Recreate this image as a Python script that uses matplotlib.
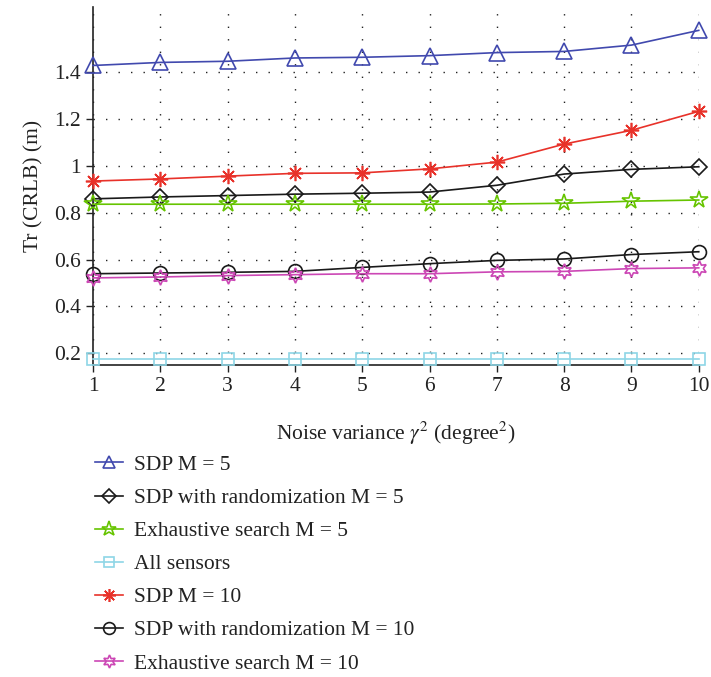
import matplotlib
matplotlib.use("Agg")
import matplotlib.pyplot as plt

noise_var = [1, 2, 3, 4, 5, 6, 7, 8, 9, 10]

sdp_m5 = [1.43, 1.443, 1.448, 1.462, 1.465, 1.472, 1.485, 1.49, 1.517, 1.58]
sdp_rand_m5 = [0.860, 0.868, 0.874, 0.880, 0.884, 0.889, 0.918, 0.966, 0.986, 0.997]
exh_m5 = [0.837, 0.837, 0.837, 0.837, 0.837, 0.837, 0.838, 0.841, 0.850, 0.855]
all_sensors = [0.177, 0.177, 0.177, 0.177, 0.177, 0.177, 0.177, 0.177, 0.177, 0.177]
sdp_m10 = [0.936, 0.945, 0.957, 0.969, 0.971, 0.988, 1.017, 1.094, 1.153, 1.234]
sdp_rand_m10 = [0.540, 0.543, 0.546, 0.550, 0.567, 0.583, 0.597, 0.603, 0.622, 0.634]
exh_m10 = [0.522, 0.526, 0.532, 0.536, 0.540, 0.540, 0.548, 0.550, 0.562, 0.565]

labels = ["SDP M = 5", "SDP with randomization M = 5", "Exhaustive search M = 5",
          "All sensors", "SDP M = 10", "SDP with randomization M = 10",
          "Exhaustive search M = 10"]
yticks = [0.2, 0.4, 0.6, 0.8, 1.0, 1.2, 1.4]
ytick_labels = ["0.2", "0.4", "0.6", "0.8", "1", "1.2", "1.4"]

plt.rcParams['font.family'] = ['Liberation Serif', 'DejaVu Serif']
plt.rcParams['mathtext.fontset'] = 'stix'

FS = 15.5
fig = plt.figure(figsize=(7.11, 6.77), dpi=100)
ax = fig.add_axes([0.1308, 0.4609, 0.852, 0.5288])

series = [
    (sdp_m5, '#4149AE', '^', 11),
    (sdp_rand_m5, '#1a1a1a', 'D', 8.5),
    (exh_m5, '#66C400', '*', 13),
    (all_sensors, '#8ED6E6', 's', 8.5),
    (sdp_m10, '#E8322A', (8, 2, 0), 11),
    (sdp_rand_m10, '#1a1a1a', 'o', 10),
    (exh_m10, '#CC47B5', (6, 1, 0), 11),
]
for (vals, col, mk, ms), lab in zip(series, labels):
    ax.plot(noise_var, vals, color=col, marker=mk, markersize=ms,
            markerfacecolor='none', markeredgecolor=col, markeredgewidth=1.2,
            linewidth=1.2, label=lab, clip_on=False, zorder=3)

ax.set_xlim(1, 10)
ax.set_ylim(0.15, 1.68)
ax.set_xticks(noise_var)
ax.set_yticks(yticks)
ax.set_yticklabels(ytick_labels)
ax.tick_params(direction='out', length=5, width=1, labelsize=FS, colors='#222222')
ax.grid(True, color='#222222', linestyle=(0, (1, 8)), linewidth=1.0)
for s in ['top', 'right']:
    ax.spines[s].set_visible(False)
for s in ['left', 'bottom']:
    ax.spines[s].set_linewidth(1.2)
    ax.spines[s].set_color('#222222')

ax.set_xlabel(r"Noise variance $\gamma^2$ (degree$^2$)", fontsize=FS, labelpad=17, color='#222222')
ax.set_ylabel("Tr (CRLB) (m)", fontsize=FS, labelpad=8, color='#222222')

leg = fig.legend(loc='upper left', bbox_to_anchor=(0.133, 0.328), frameon=False,
                 fontsize=FS, handlelength=1.3, handletextpad=0.55, labelspacing=0.605,
                 borderaxespad=0, borderpad=0, markerscale=0.85)
for t in leg.get_texts():
    t.set_color('#222222')

fig.savefig("out.png", dpi=100)
